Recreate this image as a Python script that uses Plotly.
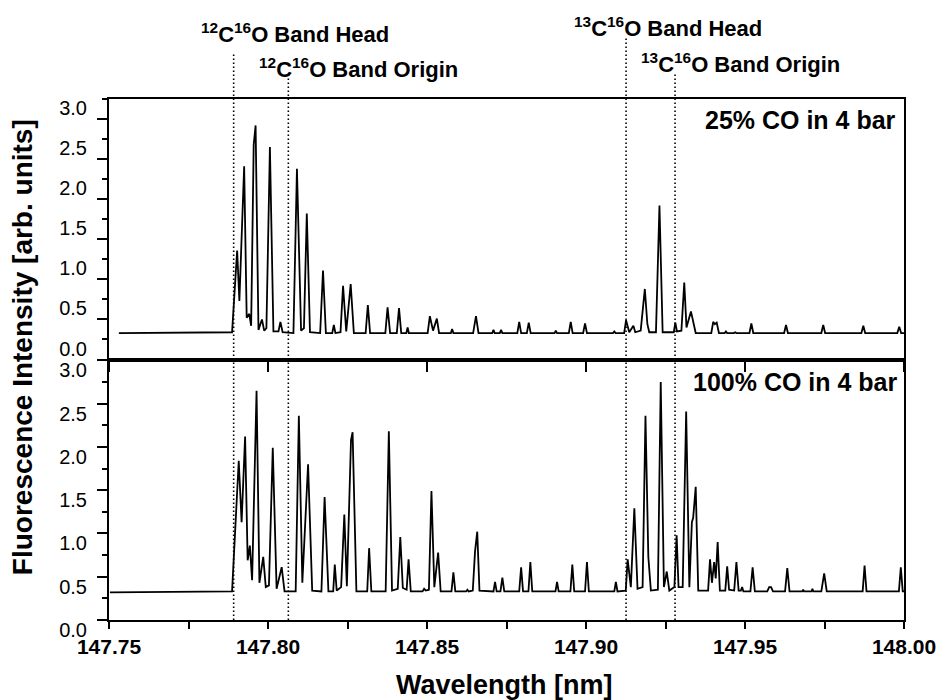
import plotly.graph_objects as go

# ---------------- data ----------------
# upper panel: 25% CO in 4 bar  (wavelength nm, intensity arb. units)
upper_trace = [
    (147.7531, 0.33), (147.7887, 0.34), (147.7903, 1.36), (147.7910, 0.73),
    (147.7925, 2.41), (147.7933, 0.52), (147.7941, 0.57), (147.7947, 0.42),
    (147.7955, 2.68), (147.7961, 2.92), (147.7970, 0.37), (147.7981, 0.50),
    (147.7988, 0.36), (147.7995, 0.39), (147.8006, 2.65), (147.8017, 0.35),
    (147.8033, 0.35), (147.8039, 0.47), (147.8046, 0.34), (147.8080, 0.33),
    (147.8091, 2.38), (147.8104, 0.36), (147.8113, 0.39), (147.8122, 1.82),
    (147.8132, 0.34), (147.8164, 0.33), (147.8173, 1.11), (147.8182, 0.33),
    (147.8202, 0.33), (147.8207, 0.43), (147.8212, 0.33), (147.8228, 0.34),
    (147.8236, 0.92), (147.8246, 0.35), (147.8260, 0.94), (147.8270, 0.33),
    (147.8307, 0.33), (147.8314, 0.68), (147.8321, 0.33), (147.8369, 0.33),
    (147.8376, 0.65), (147.8384, 0.33), (147.8405, 0.33), (147.8412, 0.64),
    (147.8419, 0.33), (147.8435, 0.33), (147.8439, 0.40), (147.8443, 0.33),
    (147.8502, 0.33), (147.8509, 0.54), (147.8519, 0.36), (147.8531, 0.51),
    (147.8538, 0.33), (147.8575, 0.33), (147.8579, 0.38), (147.8583, 0.33),
    (147.8645, 0.33), (147.8654, 0.54), (147.8662, 0.33), (147.8705, 0.33),
    (147.8709, 0.37), (147.8713, 0.33), (147.8729, 0.33), (147.8733, 0.37),
    (147.8737, 0.33), (147.8784, 0.33), (147.8790, 0.47), (147.8796, 0.33),
    (147.8814, 0.33), (147.8820, 0.46), (147.8826, 0.33), (147.8901, 0.33),
    (147.8905, 0.36), (147.8909, 0.33), (147.8946, 0.33), (147.8952, 0.47),
    (147.8958, 0.33), (147.8991, 0.33), (147.8997, 0.45), (147.9003, 0.33),
    (147.9085, 0.33), (147.9089, 0.35), (147.9093, 0.33), (147.9120, 0.33),
    (147.9126, 0.49), (147.9136, 0.34), (147.9149, 0.42), (147.9155, 0.34),
    (147.9172, 0.36), (147.9185, 0.88), (147.9193, 0.44), (147.9199, 0.34),
    (147.9220, 0.34), (147.9231, 1.92), (147.9241, 0.34), (147.9276, 0.34),
    (147.9281, 0.46), (147.9286, 0.35), (147.9300, 0.36), (147.9309, 0.96),
    (147.9316, 0.40), (147.9330, 0.60), (147.9345, 0.33), (147.9394, 0.33),
    (147.9400, 0.47), (147.9405, 0.44), (147.9411, 0.46), (147.9418, 0.33),
    (147.9436, 0.33), (147.9440, 0.35), (147.9444, 0.33), (147.9465, 0.33),
    (147.9469, 0.34), (147.9473, 0.33), (147.9514, 0.33), (147.9520, 0.45),
    (147.9526, 0.33), (147.9623, 0.33), (147.9629, 0.43), (147.9635, 0.33),
    (147.9740, 0.33), (147.9746, 0.43), (147.9752, 0.33), (147.9866, 0.33),
    (147.9872, 0.42), (147.9878, 0.33), (147.9979, 0.33), (147.9985, 0.41),
    (147.9991, 0.33), (148.0000, 0.33),
]

# lower panel: 100% CO in 4 bar
lower_trace = [
    (147.7503, 0.32), (147.7887, 0.33), (147.7908, 1.84), (147.7917, 1.13),
    (147.7928, 2.12), (147.7936, 0.69), (147.7943, 0.86), (147.7950, 0.46),
    (147.7964, 2.65), (147.7973, 0.43), (147.7985, 0.73), (147.7993, 0.38),
    (147.8003, 0.40), (147.8015, 1.99), (147.8027, 0.36), (147.8043, 0.61),
    (147.8052, 0.33), (147.8087, 0.33), (147.8097, 2.36), (147.8108, 0.43),
    (147.8126, 1.80), (147.8139, 0.34), (147.8168, 0.33), (147.8178, 1.42),
    (147.8190, 0.33), (147.8205, 0.33), (147.8210, 0.64), (147.8216, 0.34),
    (147.8230, 0.38), (147.8240, 1.22), (147.8248, 0.39), (147.8261, 2.08),
    (147.8266, 2.17), (147.8278, 0.33), (147.8312, 0.33), (147.8318, 0.83),
    (147.8325, 0.33), (147.8370, 0.33), (147.8380, 2.18), (147.8390, 0.34),
    (147.8408, 0.36), (147.8416, 0.96), (147.8424, 0.37), (147.8436, 0.35),
    (147.8442, 0.70), (147.8449, 0.33), (147.8486, 0.33), (147.8491, 0.36),
    (147.8496, 0.34), (147.8506, 0.35), (147.8514, 1.49), (147.8523, 0.38),
    (147.8535, 0.78), (147.8543, 0.33), (147.8577, 0.33), (147.8583, 0.55),
    (147.8589, 0.33), (147.8623, 0.33), (147.8627, 0.35), (147.8631, 0.33),
    (147.8644, 0.34), (147.8651, 0.79), (147.8658, 1.02), (147.8665, 0.34),
    (147.8709, 0.33), (147.8714, 0.44), (147.8719, 0.33), (147.8731, 0.33),
    (147.8737, 0.49), (147.8743, 0.33), (147.8790, 0.33), (147.8796, 0.61),
    (147.8802, 0.33), (147.8819, 0.33), (147.8825, 0.67), (147.8831, 0.33),
    (147.8904, 0.33), (147.8909, 0.44), (147.8914, 0.33), (147.8951, 0.33),
    (147.8957, 0.64), (147.8963, 0.33), (147.8997, 0.33), (147.9003, 0.67),
    (147.9009, 0.33), (147.9089, 0.33), (147.9094, 0.44), (147.9099, 0.33),
    (147.9125, 0.34), (147.9131, 0.70), (147.9141, 0.38), (147.9152, 1.29),
    (147.9162, 0.36), (147.9178, 0.38), (147.9187, 2.36), (147.9196, 0.73),
    (147.9204, 0.34), (147.9226, 0.35), (147.9235, 2.75), (147.9245, 0.38),
    (147.9254, 0.56), (147.9262, 0.34), (147.9278, 0.38), (147.9285, 0.98),
    (147.9291, 0.38), (147.9304, 0.38), (147.9315, 2.41), (147.9325, 0.38),
    (147.9333, 1.13), (147.9337, 1.18), (147.9345, 1.54), (147.9353, 0.34),
    (147.9384, 0.34), (147.9390, 0.70), (147.9396, 0.43), (147.9403, 0.67),
    (147.9408, 0.48), (147.9414, 0.90), (147.9421, 0.34), (147.9438, 0.34),
    (147.9444, 0.62), (147.9450, 0.35), (147.9466, 0.34), (147.9473, 0.67),
    (147.9480, 0.34), (147.9487, 0.34), (147.9491, 0.38), (147.9495, 0.33),
    (147.9517, 0.33), (147.9524, 0.61), (147.9531, 0.33), (147.9570, 0.33),
    (147.9576, 0.38), (147.9582, 0.38), (147.9588, 0.33), (147.9626, 0.33),
    (147.9633, 0.60), (147.9640, 0.33), (147.9680, 0.33), (147.9683, 0.35),
    (147.9686, 0.33), (147.9709, 0.33), (147.9712, 0.36), (147.9715, 0.33),
    (147.9740, 0.33), (147.9749, 0.54), (147.9757, 0.33), (147.9870, 0.33),
    (147.9876, 0.63), (147.9882, 0.33), (147.9984, 0.33), (147.9990, 0.61),
    (147.9996, 0.33), (148.0000, 0.33),
]

# band head / band origin markers
marker_wavelengths = [147.7892, 147.8064, 147.9126, 147.9280]
marker_labels = [
    "<sup>12</sup>C<sup>16</sup>O Band Head",
    "<sup>12</sup>C<sup>16</sup>O Band Origin",
    "<sup>13</sup>C<sup>16</sup>O Band Head",
    "<sup>13</sup>C<sup>16</sup>O Band Origin",
]
panel_labels = ["25% CO in 4 bar", "100% CO in 4 bar"]
x_range = [147.75, 148.00]
y_title = "Fluorescence Intensity [arb. units]"
x_title = "Wavelength [nm]"

# ---------------- figure ----------------
FONT = "Liberation Sans, Arial, Helvetica, sans-serif"

fig = go.Figure()
fig.add_trace(go.Scatter(
    x=[p[0] for p in upper_trace], y=[p[1] for p in upper_trace],
    mode="lines", line=dict(color="black", width=1.8),
    xaxis="x2", yaxis="y2", showlegend=False, hoverinfo="skip"))
fig.add_trace(go.Scatter(
    x=[p[0] for p in lower_trace], y=[p[1] for p in lower_trace],
    mode="lines", line=dict(color="black", width=1.8),
    xaxis="x", yaxis="y", showlegend=False, hoverinfo="skip"))

common_x = dict(range=x_range, tick0=147.75, dtick=0.05, showgrid=False,
                zeroline=False, showline=True, linewidth=2, linecolor="black",
                mirror=True, tickwidth=2, tickcolor="black", automargin=False)
common_y = dict(tick0=0, dtick=0.5, showgrid=False, zeroline=False,
                showline=True, linewidth=2, linecolor="black", mirror=True,
                ticks="outside", ticklen=10, tickwidth=2, tickcolor="black",
                tickformat=".1f", ticklabelstandoff=6, automargin=False,
                tickfont=dict(family=FONT, size=20, color="black"),
                minor=dict(dtick=0.25, ticks="outside", ticklen=5,
                           tickwidth=2, tickcolor="black"))

fig.update_layout(
    width=939, height=700,
    margin=dict(l=109, r=35, t=99, b=80),
    paper_bgcolor="white", plot_bgcolor="white",
    xaxis=dict(**common_x, anchor="y", ticks="outside", ticklen=7,
               tickformat=".2f", ticklabelstandoff=0,
               tickfont=dict(family=FONT, size=21, color="black", weight="bold"),
               minor=dict(dtick=0.025, ticks="outside", ticklen=7,
                          tickwidth=2, tickcolor="black")),
    xaxis2=dict(**common_x, anchor="y2", ticks="outside", ticklen=10,
                showticklabels=False),
    yaxis=dict(**common_y, domain=[0, 0.5], range=[0, 3.01], anchor="x",
               ticklabelshift=10),
    yaxis2=dict(**common_y, domain=[0.5, 1], range=[0, 3.25], anchor="x2",
                ticklabelshift=-11),
)

# dotted marker lines spanning both panels
line_tops = [1.088, 1.046, 1.117, 1.048]
for wl, top in zip(marker_wavelengths, line_tops):
    fig.add_shape(type="line", xref="x", yref="paper", x0=wl, x1=wl,
                  y0=0, y1=top, layer="above",
                  line=dict(color="black", width=1.6, dash="1.5px,2.5px"))

label_pos = [(0.234, 1.127), (0.314, 1.060), (0.703, 1.138), (0.794, 1.069)]
for text, (px, py) in zip(marker_labels, label_pos):
    fig.add_annotation(text="<b>" + text + "</b>", xref="paper", yref="paper",
                       x=px, y=py, xanchor="center", yanchor="middle",
                       showarrow=False,
                       font=dict(family=FONT, size=22, color="black"))

for text, (px, py) in zip(panel_labels, [(0.9925, 0.960), (0.995, 0.457)]):
    fig.add_annotation(text="<b>" + text + "</b>", xref="paper", yref="paper",
                       x=px, y=py, xanchor="right", yanchor="middle",
                       showarrow=False,
                       font=dict(family=FONT, size=25, color="black"))

fig.add_annotation(text="<b>" + y_title + "</b>", xref="paper", yref="paper",
                   x=-0.108, y=0.524, textangle=-90, showarrow=False,
                   xanchor="center", yanchor="middle",
                   font=dict(family=FONT, size=28, color="black"))
fig.add_annotation(text="<b>" + x_title + "</b>", xref="paper", yref="paper",
                   x=0.4975, y=-0.125, showarrow=False,
                   xanchor="center", yanchor="middle",
                   font=dict(family=FONT, size=27, color="black"))

# remove the default 8px page margin so the figure fills the window exactly
fig.write_html("out.html",
               config={"displayModeBar": False},
               post_script="document.body.style.margin='0';"
                           "document.body.style.overflow='hidden';")
